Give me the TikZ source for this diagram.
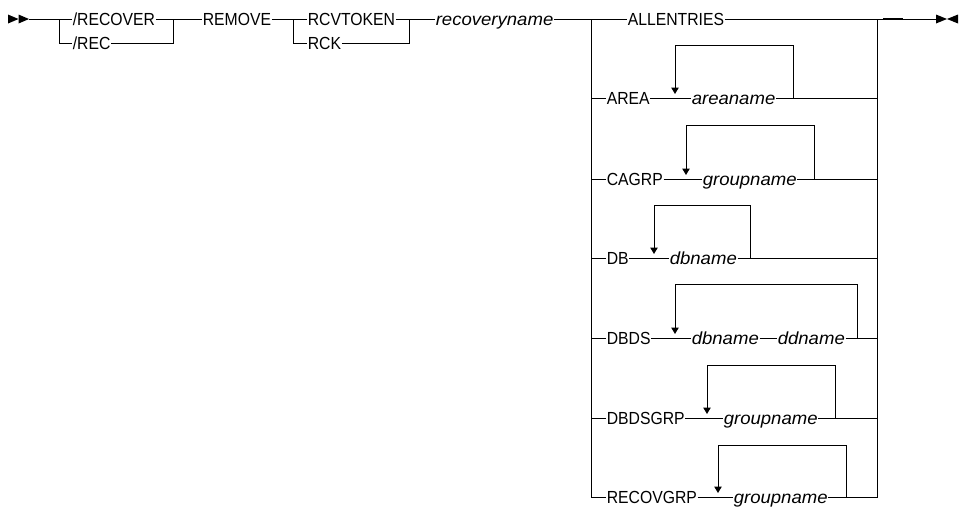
\documentclass[tikz,border=0pt]{standalone}
\usepackage{fontspec}
\newfontfamily\kwfont{Liberation Sans}[FakeStretch=0.9]
\newfontfamily\varfont{Liberation Sans}[FakeStretch=1.06]
\usetikzlibrary{arrows.meta}
\tikzset{
  kw/.style={font={\kwfont\fontsize{17.5}{20}\selectfont}, inner sep=0.6pt,
             text height=12.6pt, text depth=0pt, anchor=west},
  var/.style={kw, font={\varfont\itshape\fontsize{17.5}{20}\selectfont}},
  rail/.style={line width=1pt},
  rep/.style={rail, -{Triangle[length=6.5pt,width=7.5pt]}},
}

\begin{document}
\begin{tikzpicture}[x=1pt, y=-1pt]
    \useasboundingbox (0,0) rectangle (962,509);
    % start
    \fill (8,14.5) -- (18.5,19) -- (8,23.5) -- cycle;
    \fill (18.5,14.5) -- (29,19) -- (18.5,23.5) -- cycle;
    \coordinate (s) at (29,19);
    \coordinate (j1) at (59,19);
    \coordinate (j2) at (173,19);
    \coordinate (j3) at (293,19);
    \coordinate (j4) at (409,19);
    \coordinate (j5) at (591,19);
    \coordinate (j6) at (877,19);
    \node[kw] (recover) at (72,19) {/RECOVER};
    \node[kw] (rec) at (72,43) {/REC};
    \node[kw] (remove) at (202,19) {REMOVE};
    \node[kw] (rcvtoken) at (307,19) {RCVTOKEN};
    \node[kw] (rck) at (307,43) {RCK};
    \node[var] (recname) at (435,19) {recoveryname};
    \draw[rail] (s) -- (recover);
    \draw[rail] (j1) |- (rec);
    \draw[rail] (recover) -- (remove);
    \draw[rail] (rec) -| (j2);
    \draw[rail] (remove) -- (rcvtoken);
    \draw[rail] (j3) |- (rck);
    \draw[rail] (rcvtoken) -- (recname);
    \draw[rail] (rck) -| (j4);
    % choices
    \node[kw] (allent) at (627,19) {ALLENTRIES};
    \node[kw] (area) at (606,98) {AREA};
    \node[var] (areaname) at (691,98) {areaname};
    \node[kw] (cagrp) at (606,179) {CAGRP};
    \node[var] (cagrpname) at (702,179) {groupname};
    \node[kw] (db) at (606,258) {DB};
    \node[var] (dbname) at (669,258) {dbname};
    \node[kw] (dbds) at (606,338) {DBDS};
    \node[var] (dbdsdb) at (691,338) {dbname};
    \node[var] (ddname) at (777,338) {ddname};
    \node[kw] (dbdsgrp) at (606,418) {DBDSGRP};
    \node[var] (dbdsgrpname) at (723,418) {groupname};
    \node[kw] (recovgrp) at (606,497) {RECOVGRP};
    \node[var] (recovgrpname) at (733,497) {groupname};
    \draw[rail] (recname) -- (allent);
    \draw[rail] (j5) |- (area);
    \draw[rail] (j5) |- (cagrp);
    \draw[rail] (j5) |- (db);
    \draw[rail] (j5) |- (dbds);
    \draw[rail] (j5) |- (dbdsgrp);
    \draw[rail] (j5) |- (recovgrp);
    \draw[rail] (area) -- (areaname);
    \draw[rail] (cagrp) -- (cagrpname);
    \draw[rail] (db) -- (dbname);
    \draw[rail] (dbds) -- (dbdsdb);
    \draw[rail] (dbdsdb) -- (ddname);
    \draw[rail] (dbdsgrp) -- (dbdsgrpname);
    \draw[rail] (recovgrp) -- (recovgrpname);
    \draw[rail] (areaname) -| (j6);
    \draw[rail] (cagrpname) -| (j6);
    \draw[rail] (dbname) -| (j6);
    \draw[rail] (ddname) -| (j6);
    \draw[rail] (dbdsgrpname) -| (j6);
    \draw[rail] (recovgrpname) -| (j6);
    % repeat loops
    \coordinate (areaR) at (793,98);
    \coordinate (areaT) at (675,45);
    \coordinate (areaL) at (675,94);
    \draw[rep] (areaR) |- (areaT) -- (areaL);
    \coordinate (cagrpR) at (814,179);
    \coordinate (cagrpT) at (686,125);
    \coordinate (cagrpL) at (686,175);
    \draw[rep] (cagrpR) |- (cagrpT) -- (cagrpL);
    \coordinate (dbR) at (750,258);
    \coordinate (dbT) at (654,205);
    \coordinate (dbL) at (654,254);
    \draw[rep] (dbR) |- (dbT) -- (dbL);
    \coordinate (dbdsR) at (857,338);
    \coordinate (dbdsT) at (675,284);
    \coordinate (dbdsL) at (675,334);
    \draw[rep] (dbdsR) |- (dbdsT) -- (dbdsL);
    \coordinate (dbdsgrpR) at (835,418);
    \coordinate (dbdsgrpT) at (707,365);
    \coordinate (dbdsgrpL) at (707,414);
    \draw[rep] (dbdsgrpR) |- (dbdsgrpT) -- (dbdsgrpL);
    \coordinate (recovgrpR) at (846,497);
    \coordinate (recovgrpT) at (718,445);
    \coordinate (recovgrpL) at (718,493);
    \draw[rep] (recovgrpR) |- (recovgrpT) -- (recovgrpL);
    % end
    \coordinate (t1) at (883,19);
    \coordinate (t2) at (903,19);
    \coordinate (e) at (936,19);
    \draw[rail] (allent) -- (e);
    \draw[line width=2.4pt] (t1) -- (t2);
    \fill (936,14.5) -- (947,19) -- (936,23.5) -- cycle;
    \fill (958,14.5) -- (947,19) -- (958,23.5) -- cycle;
\end{tikzpicture}
\end{document}
